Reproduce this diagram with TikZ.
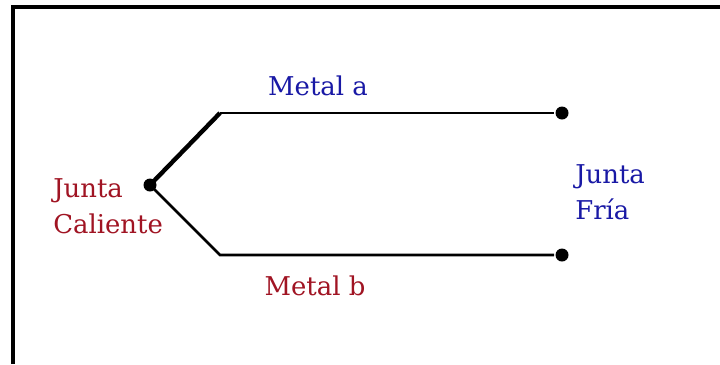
\documentclass[tikz,border=0pt]{standalone}
\usepackage{fontspec}
\setmainfont{DejaVu Serif}
\usetikzlibrary{positioning}
\definecolor{rojo}{RGB}{160,20,35}
\definecolor{azul}{RGB}{25,25,165}

\begin{document}
\begin{tikzpicture}[x=1bp, y=-1bp, line width=2.6bp,
  punto/.style={circle, fill=black, inner sep=0pt, minimum size=13bp},
  esquina/.style={inner sep=0pt, minimum size=0pt},
  etiqueta/.style={font=\fontsize{26}{36}\selectfont, inner sep=0pt, align=left}]

\useasboundingbox (0,0) rectangle (720,364);
\draw[line width=3.5bp] (13,364) -- (13,7) -- (720,7);

\node[punto] (Hot) at (150,185) {};
\node[esquina] (A1) at (220,113) {};
\node[esquina] (B1) at (220,255) {};
\node[punto] (A2) at (562,113) {};
\node[punto] (B2) at (562,255) {};

\node[etiqueta, text=azul, anchor=base] (Ma) at (318,95) {Metal a};
\node[etiqueta, text=rojo, anchor=base] (Mb) at (315,295) {Metal b};
\node[etiqueta, text=rojo, anchor=west] (Cal) at (52,206) {Junta\\Caliente};
\node[etiqueta, text=azul, anchor=west] (Fria) at (574,192) {Junta\\Fría};

\draw[line width=4.4bp] (Hot.center) -- (A1.center);
\draw (A1.center) -- (A2);
\draw (Hot.center) -- (B1.center) -- (B2);

\end{tikzpicture}
\end{document}
